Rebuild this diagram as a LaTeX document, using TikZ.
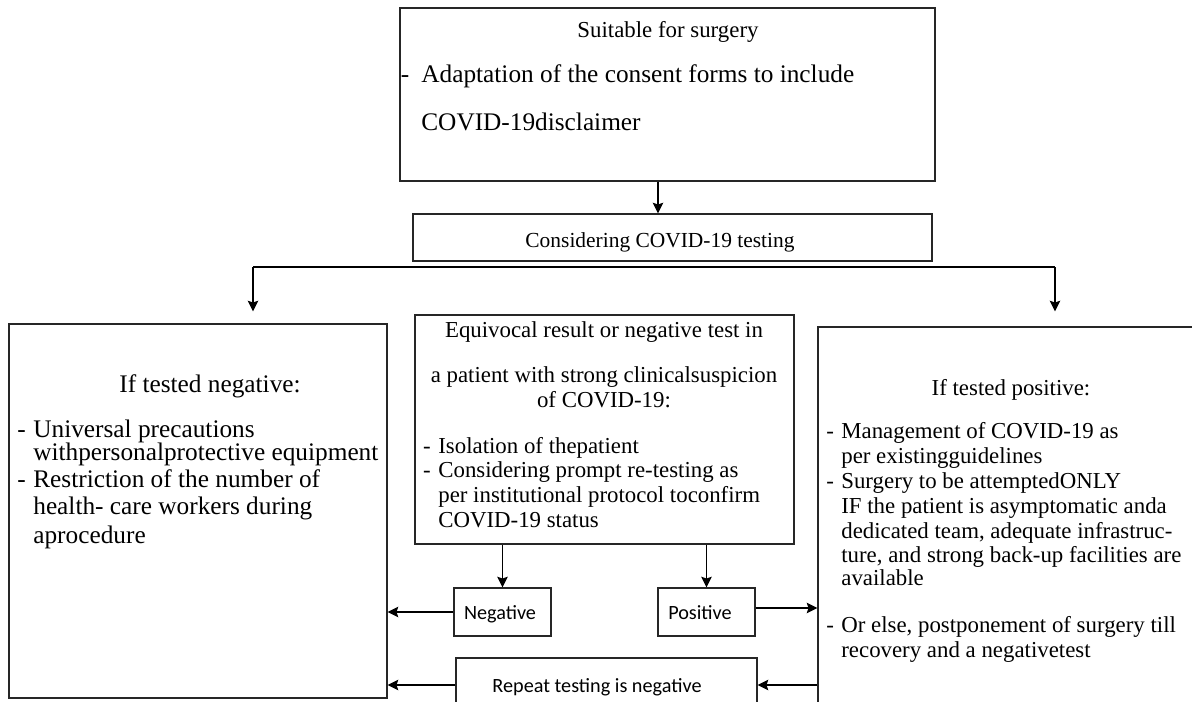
\documentclass[tikz,border=0pt]{standalone}
\usepackage{fontspec}
\setmainfont{Liberation Serif}
\newfontfamily\labelfont{Carlito}
\usepackage{tikz}
\usetikzlibrary{arrows.meta,positioning,calc}
\newcommand{\fsz}[1]{\fontsize{#1}{#1}\selectfont}
\newcommand{\dash}{\llap{-\hspace{0.15cm}}}

\begin{document}
\begin{tikzpicture}[
  box/.style={draw=black!85, line width=0.8pt, inner sep=0pt},
  flow/.style={-{Stealth[length=6pt,width=6pt,inset=1pt]}, draw=black, line width=0.7pt},
  ttl/.style={anchor=base, inner sep=0pt},
  itm/.style={anchor=base west, inner sep=0pt},
  tag/.style={anchor=base, inner sep=0pt, font=\labelfont\fsz{11.5}},
]
\useasboundingbox (0,0) rectangle (23.84,-14.02);

%============================ TOP ============================
\node[box, minimum width=10.7cm, minimum height=3.46cm] (surg) at (13.35,-1.89) {};
\node[ttl, font=\fsz{13}] (surgt) at (13.36,-0.74) {Suitable for surgery};
\node[itm, font=\fsz{14.4}] (surg1) at (8.42,-1.64) {\llap{-\hspace{0.24cm}}Adaptation of the consent forms to include};
\node[itm, font=\fsz{14.4}] (surg2) at (8.42,-2.6) {COVID-19disclaimer};

\node[box, minimum width=10.38cm, minimum height=0.94cm] (cons) at (13.45,-4.75) {};
\node[ttl, font=\fsz{12.2}] (const) at (13.2,-4.94) {Considering COVID-19 testing};

\draw[flow] ([xshift=-0.19cm]surg.south) -- ([xshift=-0.19cm]surg.south |- cons.north);

%============================ BRANCH ============================
\coordinate (bl) at (5.06,-5.34);
\coordinate (br) at (21.1,-5.34);
\draw[line width=0.7pt] (bl) -- (br);

%============================ LEFT: negative ============================
\node[box, minimum width=7.56cm, minimum height=7.48cm] (neg) at (3.96,-10.22) {};
\node[ttl, font=\fsz{14.4}] (negt) at (4.2,-7.84) {If tested negative:};
\foreach \t/\y [count=\i] in {{\dash Universal precautions}/-8.74,
    {withpersonalprotective equipment}/-9.2,
    {\dash Restriction of the number of}/-9.74,
    {health- care workers during}/-10.28,
    {aprocedure}/-10.86}
  \node[itm, font=\fsz{14.4}] (neg\i) at (0.66,\y) {\t};

%============================ MIDDLE: equivocal ============================
\node[box, minimum width=7.58cm, minimum height=4.58cm] (equi) at (12.09,-8.59) {};
\foreach \t/\y [count=\i] in {{Equivocal result or negative test in}/-6.74,
    {a patient with strong clinicalsuspicion}/-7.64,
    {of COVID-19:}/-8.14}
  \node[ttl, font=\fsz{13}] (equit\i) at (12.08,\y) {\t};
\foreach \t/\y [count=\i] in {{\dash Isolation of thepatient}/-9.06,
    {\dash Considering prompt re-testing as}/-9.54,
    {per institutional protocol toconfirm}/-10.04,
    {COVID-19 status}/-10.54}
  \node[itm, font=\fsz{13}] (equi\i) at (8.76,\y) {\t};

%============================ RIGHT: positive ============================
\node[box, minimum width=7.84cm, minimum height=7.86cm] (pos) at (20.28,-10.47) {};
\node[ttl, font=\fsz{13}] (post) at (20.22,-7.9) {If tested positive:};
\foreach \t/\y [count=\i] in {{\dash Management of COVID-19 as}/-8.76,
    {per existingguidelines}/-9.26,
    {\dash Surgery to be attemptedONLY}/-9.76,
    {IF the patient is asymptomatic anda}/-10.26,
    {dedicated team, adequate infrastruc-}/-10.76,
    {ture, and strong back-up facilities are}/-11.24,
    {available}/-11.7,
    {\dash Or else, postponement of surgery till}/-12.64,
    {recovery and a negativetest}/-13.14}
  \node[itm, font=\fsz{13}] (pos\i) at (16.82,\y) {\t};

%============================ RESULTS ============================
\node[box, minimum width=1.94cm, minimum height=0.96cm] (rneg) at (10.05,-12.24) {};
\node[tag] (rnegt) at (10.0,-12.38) {Negative};
\node[box, minimum width=1.94cm, minimum height=0.96cm] (rpos) at (14.13,-12.24) {};
\node[tag] (rpost) at (14.0,-12.38) {Positive};
\node[box, minimum width=6.02cm, minimum height=1.08cm] (rep) at (12.13,-13.7) {};
\node[tag] (rept) at (11.94,-13.84) {Repeat testing is negative};

%============================ ARROWS ============================
\draw[flow, shorten >=0.24cm] (bl) -- (bl |- neg.north);
\draw[flow, shorten >=0.3cm] (br) -- (br |- pos.north);
\foreach \b in {rneg, rpos}
  \draw[flow] (equi.south -| \b.north) -- (\b.north);
\draw[flow] (rneg.west) -- (rneg.west -| neg.east);
\draw[flow] ([yshift=0.08cm]rpos.east) -- ([yshift=0.08cm]rpos.east -| pos.west);
\draw[flow] (rep.east -| pos.west) -- (rep.east);
\draw[flow] (rep.west) -- (rep.west -| neg.east);

\end{tikzpicture}
\end{document}
